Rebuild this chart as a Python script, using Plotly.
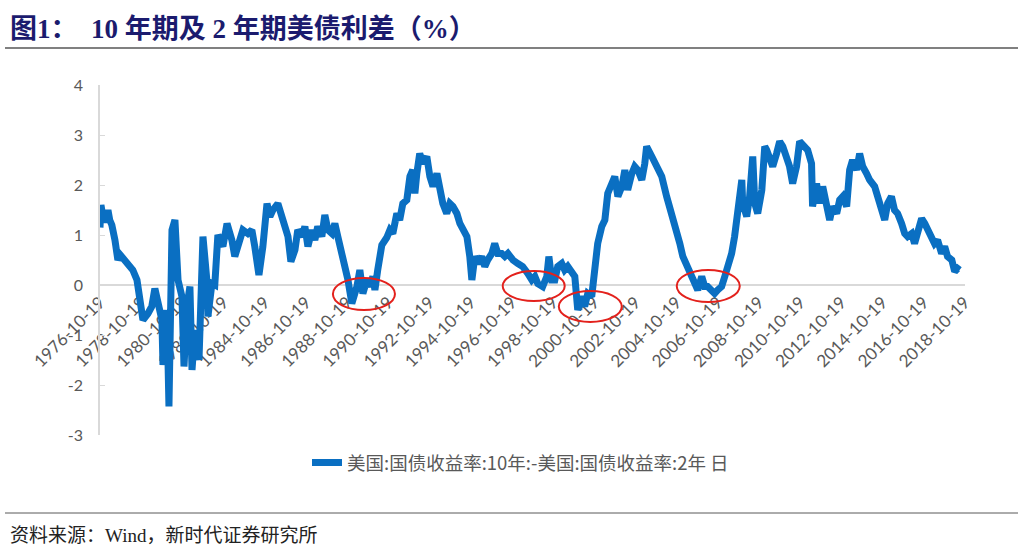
import plotly.graph_objects as go

# ---- data ----
dates = [
    "1976-10-19", "1976-11-05", "1976-12-12", "1977-01-15", "1977-02-10", "1977-03-09", "1977-04-10",
    "1977-05-17", "1977-07-11", "1977-09-01", "1977-10-15", "1977-12-01", "1978-02-28", "1978-05-24",
    "1978-08-06", "1978-09-27", "1978-11-20", "1979-02-17", "1979-04-25", "1979-06-19", "1979-08-13",
    "1979-10-22", "1979-11-10", "1979-12-16", "1980-01-19", "1980-02-24", "1980-04-18", "1980-06-09",
    "1980-08-03", "1980-10-11", "1980-11-17", "1981-01-08", "1981-03-02", "1981-04-08", "1981-05-28",
    "1981-08-10", "1981-10-19", "1981-12-27", "1982-01-15", "1982-03-27", "1982-05-17", "1982-07-11",
    "1982-10-08", "1982-12-20", "1983-03-16", "1983-05-07", "1983-08-07", "1983-09-27", "1983-12-24",
    "1984-03-05", "1984-04-25", "1984-07-08", "1984-09-16", "1984-11-28", "1985-01-19", "1985-03-13",
    "1985-06-09", "1985-08-17", "1985-10-11", "1985-12-05", "1986-01-26", "1986-04-08", "1986-05-28",
    "1986-08-10", "1986-10-01", "1986-11-24", "1987-02-03", "1987-03-27", "1987-05-17", "1987-07-29",
    "1987-09-20", "1987-11-14", "1988-01-22", "1988-03-16", "1988-05-07", "1988-07-19", "1988-09-09",
    "1988-11-03", "1989-01-11", "1989-04-11", "1989-06-02", "1989-07-26", "1989-10-04", "1989-11-28",
    "1990-01-19", "1990-02-24", "1990-04-15", "1990-06-27", "1990-09-23", "1990-11-17", "1991-01-08",
    "1991-03-20", "1991-05-10", "1991-07-04", "1991-09-13", "1991-11-07", "1991-12-27", "1992-02-03",
    "1992-03-09", "1992-04-29", "1992-06-23", "1992-09-02", "1992-10-26", "1992-12-20", "1993-02-28",
    "1993-04-19", "1993-06-13", "1993-08-21", "1993-10-15", "1993-12-09", "1994-02-17", "1994-04-11",
    "1994-06-02", "1994-08-14", "1994-10-04", "1994-11-10", "1995-01-01", "1995-02-24", "1995-05-03",
    "1995-06-27", "1995-08-17", "1995-10-30", "1995-12-20", "1996-02-14", "1996-04-22", "1996-06-16",
    "1996-08-10", "1996-11-07", "1997-02-03", "1997-04-29", "1997-07-29", "1997-10-08", "1997-12-02",
    "1998-01-22", "1998-04-19", "1998-07-01", "1998-08-07", "1998-09-27", "1998-11-21", "1999-01-11",
    "1999-03-23", "1999-05-14", "1999-07-08", "1999-09-16", "1999-11-10", "2000-01-01", "2000-03-13",
    "2000-05-03", "2000-06-27", "2000-09-05", "2000-10-30", "2000-12-20", "2001-03-02", "2001-04-26",
    "2001-06-16", "2001-08-28", "2001-10-19", "2001-12-13", "2002-02-21", "2002-04-15", "2002-06-05",
    "2002-08-17", "2002-10-08", "2002-12-02", "2003-02-10", "2003-04-04", "2003-05-07", "2003-08-07",
    "2003-09-27", "2003-11-21", "2004-01-30", "2004-04-26", "2004-06-20", "2004-08-14", "2004-10-22",
    "2004-12-16", "2005-02-07", "2005-04-19", "2005-06-09", "2005-08-17", "2005-10-30", "2006-01-08",
    "2006-03-02", "2006-04-22", "2006-07-04", "2006-08-25", "2006-10-19", "2006-12-27", "2007-02-21",
    "2007-04-15", "2007-06-23", "2007-08-14", "2007-10-08", "2007-12-20", "2008-01-05", "2008-03-16",
    "2008-05-07", "2008-07-01", "2008-08-07", "2008-09-27", "2008-12-09", "2009-01-30", "2009-03-05",
    "2009-04-26", "2009-06-20", "2009-08-28", "2009-10-22", "2009-12-16", "2010-02-24", "2010-04-15",
    "2010-06-09", "2010-08-17", "2010-10-11", "2010-12-05", "2011-03-02", "2011-05-10", "2011-05-28",
    "2011-08-07", "2011-10-01", "2011-11-24", "2012-02-03", "2012-03-27", "2012-05-17", "2012-07-29",
    "2012-09-20", "2012-11-14", "2013-01-22", "2013-03-16", "2013-05-07", "2013-07-19", "2013-09-09",
    "2013-11-03", "2014-01-11", "2014-03-05", "2014-06-02", "2014-07-26", "2014-10-04", "2014-11-28",
    "2015-01-19", "2015-03-27", "2015-05-21", "2015-07-15", "2015-09-23", "2015-11-17", "2016-01-08",
    "2016-03-20", "2016-05-10", "2016-07-04", "2016-09-13", "2016-11-07", "2017-01-01", "2017-03-09",
    "2017-04-29", "2017-06-23", "2017-09-02", "2017-10-26", "2017-12-16", "2018-03-02", "2018-04-22",
    "2018-06-13", "2018-07-19",
]
spread = [
    1.15, 1.60, 1.35, 1.40, 1.25, 1.50, 1.30,
    1.20, 0.90, 0.50, 0.60, 0.54, 0.46, 0.30,
    0.10, -0.23, -0.70, -0.57, -0.43, -0.07, -0.43,
    -0.70, -1.60, -0.70, -0.50, -2.43, 1.10, 1.30,
    0.10, -0.23, -1.63, -0.43, -0.03, -1.70, -0.90,
    -1.50, 0.97, 0.10, -0.63, 0.03, 0.00, 1.00,
    0.77, 1.23, 0.90, 0.57, 0.90, 1.10, 1.03,
    1.10, 0.77, 0.20, 0.77, 1.63, 1.37, 1.50,
    1.63, 1.37, 1.23, 0.97, 0.47, 0.70, 1.10,
    0.97, 1.17, 0.77, 1.10, 0.90, 1.17, 0.97,
    1.40, 1.10, 1.03, 1.23, 0.97, 0.63, 0.43,
    0.10, -0.37, -0.03, 0.30, -0.17, 0.10, -0.03,
    0.17, -0.10, 0.30, 0.80, 0.95, 1.10, 1.03,
    1.43, 1.30, 1.63, 1.70, 2.17, 2.30, 1.83,
    2.23, 2.63, 2.43, 2.57, 2.17, 1.97, 2.23,
    1.90, 1.63, 1.43, 1.63, 1.57, 1.43, 1.23,
    1.10, 0.97, 0.57, 0.10, 0.57, 0.43, 0.57,
    0.37, 0.50, 0.63, 0.83, 0.63, 0.63, 0.57,
    0.63, 0.50, 0.43, 0.37, 0.23, 0.10, 0.17,
    0.03, -0.03, 0.17, 0.57, 0.10, 0.10, 0.37,
    0.43, 0.30, 0.37, 0.23, 0.17, -0.50, -0.23,
    -0.43, -0.17, -0.23, 0.43, 0.83, 1.17, 1.30,
    1.83, 2.03, 2.17, 1.77, 1.97, 2.30, 1.90,
    2.23, 2.37, 2.30, 2.10, 2.43, 2.77, 2.57,
    2.43, 2.37, 2.17, 1.77, 1.57, 1.37, 1.10,
    0.83, 0.57, 0.37, 0.23, 0.10, -0.10, 0.17,
    -0.03, -0.03, -0.10, -0.17, -0.10, -0.03, 0.17,
    0.37, 0.63, 0.97, 1.43, 2.10, 1.63, 1.37,
    1.77, 2.57, 1.63, 1.43, 1.90, 2.77, 2.70,
    2.57, 2.37, 2.63, 2.87, 2.77, 2.50, 2.37,
    2.03, 2.37, 2.87, 2.80, 2.70, 2.43, 1.57,
    2.03, 1.63, 1.97, 1.63, 1.30, 1.57, 1.43,
    1.70, 1.77, 1.57, 2.30, 2.50, 2.30, 2.63,
    2.37, 2.23, 2.10, 1.97, 1.77, 1.43, 1.30,
    1.63, 1.77, 1.50, 1.43, 1.23, 1.03, 0.97,
    1.03, 0.83, 1.10, 1.33, 1.23, 1.10, 0.97,
    0.83, 0.90, 0.63, 0.77, 0.57, 0.50, 0.27,
    0.33, 0.30,
]

tick_dates = ["%d-10-19" % y for y in range(1976, 2019, 2)]
tick_labels = tick_dates
y_ticks = [-3, -2, -1, 0, 1, 2, 3, 4]
y_tick_labels = ["-3", "-2", "-1", "0", "1", "2", "3", "4"]

# highlighted inversion periods (ellipses): (start, end, low, high)
ellipses = [
    ("1988-02-10", "1991-02-15", -0.50, 0.14),
    ("1996-05-10", "1999-05-15", -0.32, 0.28),
    ("1999-01-30", "2002-02-20", -0.74, -0.12),
    ("2004-10-22", "2007-11-14", -0.34, 0.30),
]

series_name = "美国:国债收益率:10年:-美国:国债收益率:2年 日"
title_text = "图1：  10 年期及 2 年期美债利差（%）"
source_text = "资料来源：Wind，新时代证券研究所"

W, H = 1030, 553
px = lambda v: v / W
py = lambda v: 1 - v / H

fig = go.Figure()
fig.add_trace(go.Scatter(
    x=dates, y=spread, mode="lines", name=series_name,
    line=dict(color="#0A6FC2", width=7),
))

shapes = []
for x0, x1, y0, y1 in ellipses:
    shapes.append(dict(type="circle", xref="x", yref="y", x0=x0, x1=x1, y0=y0, y1=y1,
                       line=dict(color="#E3211C", width=2), layer="above"))
shapes.append(dict(type="line", xref="paper", yref="paper", x0=px(5), x1=px(1018),
                   y0=py(48), y1=py(48), line=dict(color="#808080", width=2)))
shapes.append(dict(type="line", xref="paper", yref="paper", x0=px(5), x1=px(1018),
                   y0=py(513), y1=py(513), line=dict(color="#595959", width=1)))

axis_family = "Lato, 'Noto Sans CJK SC', sans-serif"

fig.update_layout(
    width=W, height=H,
    margin=dict(l=0, r=0, t=0, b=0, autoexpand=False),
    paper_bgcolor="white", plot_bgcolor="white",
    showlegend=True,
    legend=dict(orientation="h", x=px(307), y=py(463), xanchor="left", yanchor="middle",
                font=dict(family="'Noto Sans CJK SC', sans-serif", size=18.5, color="#595959"),
                bgcolor="rgba(0,0,0,0)"),
    xaxis=dict(type="date", domain=[px(100), px(965)], range=["1976-10-19", "2018-10-22"],
               anchor="free", position=py(285), automargin=False,
               showline=True, linecolor="#D9D9D9", linewidth=1.5,
               showgrid=False, zeroline=False,
               tickmode="array", tickvals=tick_dates, ticktext=tick_labels,
               tickangle=-45, ticks="", tickfont=dict(family=axis_family, size=17, color="#595959"),
               layer="below traces"),
    yaxis=dict(domain=[py(435), py(85)], range=[-3, 4], tickmode="array", tickvals=y_ticks,
               ticktext=y_tick_labels, automargin=False,
               showline=True, linecolor="#D9D9D9", linewidth=1.5,
               showgrid=False, zeroline=False, ticks="inside", ticklen=5, tickcolor="#D9D9D9",
               tickfont=dict(family=axis_family, size=16, color="#595959"), ticklabelstandoff=12),
    shapes=shapes,
    annotations=[
        dict(text="<b>" + title_text + "</b>", xref="paper", yref="paper", x=px(8), y=py(29),
             xanchor="left", yanchor="middle", showarrow=False,
             font=dict(family="'Liberation Serif', 'Noto Sans CJK SC', serif", size=27, color="#1B1B6E")),
        dict(text=source_text, xref="paper", yref="paper", x=px(8), y=py(535),
             xanchor="left", yanchor="middle", showarrow=False,
             font=dict(family="'Liberation Serif', 'Noto Sans CJK SC', serif", size=19, color="#222222")),
    ],
)

fig.write_html("out.html")
